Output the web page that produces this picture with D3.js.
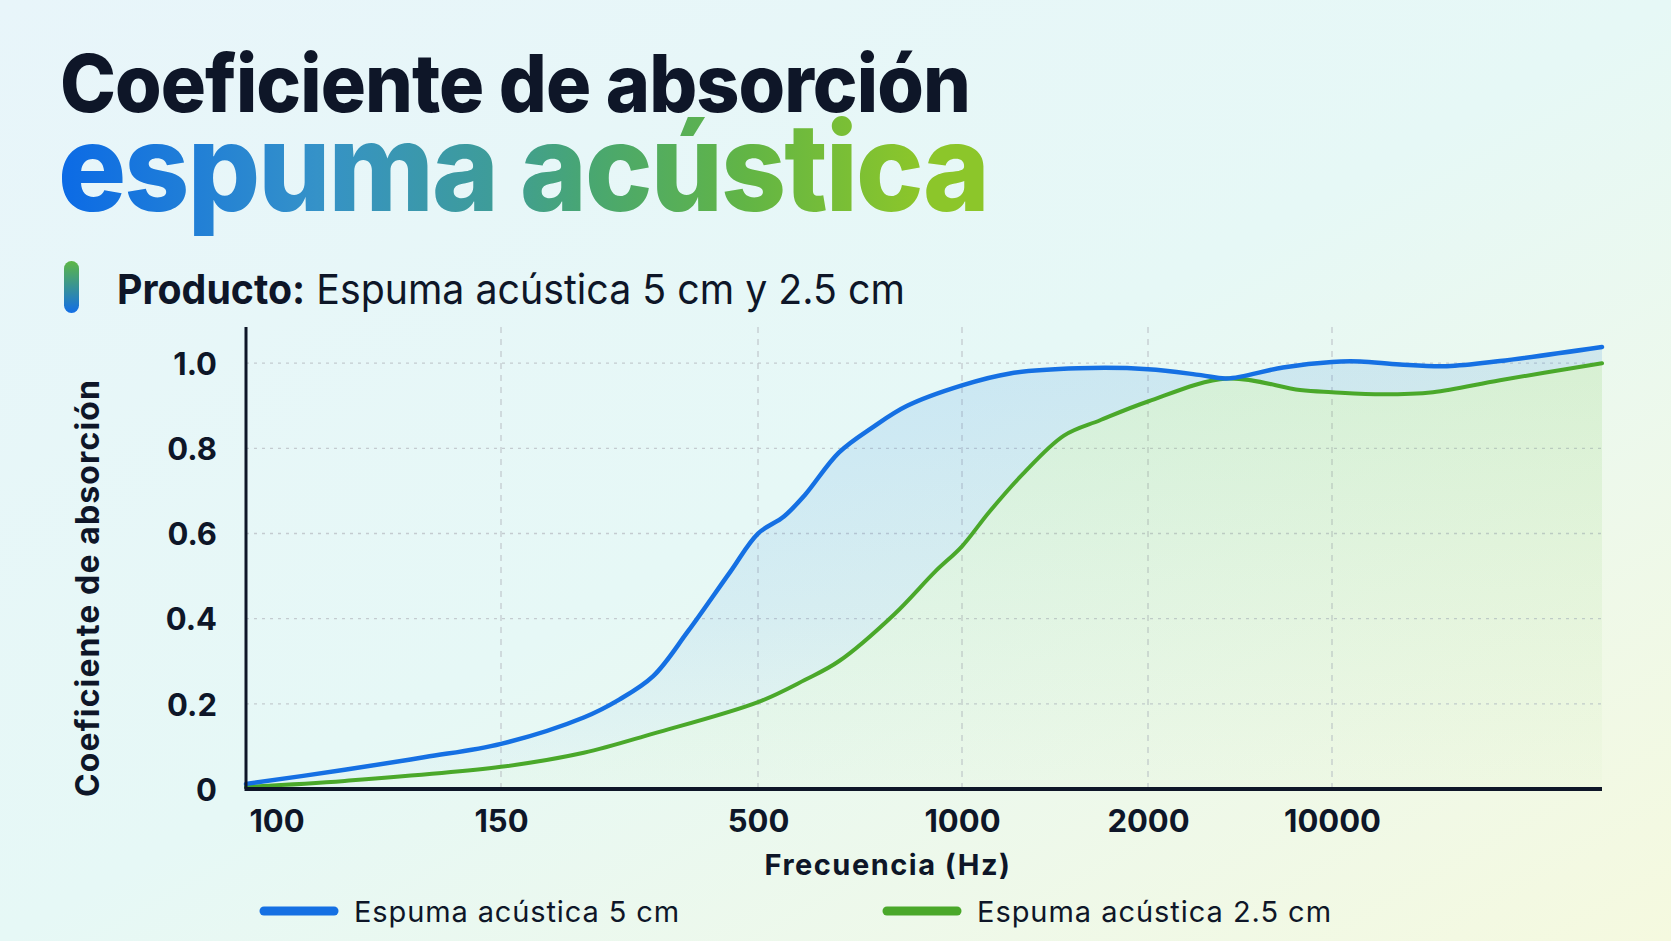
<!DOCTYPE html>
<html>
<head>
<meta charset="utf-8">
<script src="https://cdn.jsdelivr.net/npm/d3@7"></script>
<style>
  html, body { margin: 0; padding: 0; overflow: hidden; }
  svg { display: block; font-family: Inter, "Noto Sans", sans-serif; }
</style>
</head>
<body>
<svg id="chart" width="1671" height="941"></svg>
<script>
// Chart data
const freqTicks = [100, 150, 500, 1000, 2000, 10000];
const absTicks = [0, 0.2, 0.4, 0.6, 0.8, 1.0];
const seriesNames = ["Espuma acústica 5 cm", "Espuma acústica 2.5 cm"];

// 5 cm foam
const foam5Freq = [100, 117, 133, 150, 221, 261, 306, 360, 439, 500, 546, 586, 658, 739, 830, 1000, 1196, 1541, 2000, 3180, 3990, 6510, 10000, 10750, 11900, 13430, 15390, 20000];
const foam5Abs  = [0.012, 0.045, 0.075, 0.106, 0.168, 0.21, 0.265, 0.37, 0.51, 0.60, 0.64, 0.69, 0.79, 0.85, 0.90, 0.948, 0.976, 0.988, 0.986, 0.972, 0.964, 0.99, 1.003, 1.004, 0.997, 0.993, 1.005, 1.038];

// 2.5 cm foam
const foam25Freq = [100, 117, 150, 221, 306, 500, 586, 658, 794, 912, 1000, 1106, 1255, 1462, 1673, 2000, 3990, 7560, 10000, 11400, 12960, 15390, 20000];
const foam25Abs  = [0.005, 0.019, 0.052, 0.085, 0.13, 0.204, 0.256, 0.30, 0.41, 0.51, 0.57, 0.65, 0.74, 0.83, 0.866, 0.91, 0.964, 0.937, 0.932, 0.927, 0.932, 0.96, 1.0];

const W = 1671, H = 941;
const ink = "#0e1628";
const blue = "#1570e3", green = "#4aa82a";

const svg = d3.select("#chart");
const defs = svg.append("defs");

// background wash
const bg = defs.append("linearGradient").attr("id", "bg")
  .attr("x1", "0").attr("y1", "0").attr("x2", "1").attr("y2", "1");
bg.append("stop").attr("offset", "0").attr("stop-color", "#e8f5fa");
bg.append("stop").attr("offset", "0.5").attr("stop-color", "#e6f8f6");
bg.append("stop").attr("offset", "1").attr("stop-color", "#f5f9df");
svg.append("rect").attr("width", W).attr("height", H).attr("fill", "url(#bg)");

const titleGrad = defs.append("linearGradient").attr("id", "titleGrad")
  .attr("gradientUnits", "userSpaceOnUse").attr("x1", 0).attr("x2", 925).attr("y1", 0).attr("y2", 0);
[["0", "#0b6ae6"], ["0.3", "#3592c8"], ["0.5", "#3e9c9a"], ["0.62", "#49a770"], ["0.8", "#62b545"], ["1", "#8cc62a"]]
  .forEach(s => titleGrad.append("stop").attr("offset", s[0]).attr("stop-color", s[1]));

const barGrad = defs.append("linearGradient").attr("id", "barGrad")
  .attr("x1", 0).attr("x2", 0).attr("y1", 0).attr("y2", 1);
barGrad.append("stop").attr("offset", "0").attr("stop-color", "#5db745");
barGrad.append("stop").attr("offset", "1").attr("stop-color", "#136ee6");

// fit a text element to a width by nudging letter spacing
function fit(sel, w) {
  const n = sel.text().length;
  const cur = sel.node().getComputedTextLength();
  sel.style("letter-spacing", ((w - cur) / n) + "px");
  return sel;
}
// squeeze a text horizontally so its glyphs fill a width
function squeeze(sel, px, py, w) {
  const cur = sel.node().getComputedTextLength();
  sel.attr("transform", `translate(${px},${py}) scale(${w / cur},1)`);
  return sel;
}

// titles
squeeze(svg.append("text")
  .attr("font-size", 80).attr("font-weight", 800).attr("fill", ink)
  .style("letter-spacing", "-1px")
  .text("Coeficiente de absorción"), 60, 112, 910);

squeeze(svg.append("text")
  .attr("font-size", 122).attr("font-weight", 800).attr("fill", "url(#titleGrad)")
  .style("letter-spacing", "-2px")
  .text("espuma acústica"), 58, 211, 930);

svg.append("rect").attr("x", 64).attr("y", 261).attr("width", 15).attr("height", 52)
  .attr("rx", 7.5).attr("fill", "url(#barGrad)");

const sub = svg.append("text").attr("font-size", 41).attr("fill", ink);
sub.append("tspan").attr("font-weight", 700).text("Producto:");
sub.append("tspan").attr("font-weight", 400).text(" Espuma acústica 5 cm y 2.5 cm");
squeeze(sub, 117, 304, 788);

// scales
const x = d3.scaleLog()
  .domain([100, 150, 500, 1000, 2000, 10000, 20000])
  .range([246, 501, 758, 962, 1148, 1332, 1602]);
const y = d3.scaleLinear().domain([0, 1.085]).range([789, 327]);
const [x0, x1] = [x(100), x(20000)];

// grid
svg.append("g").selectAll("line").data(absTicks.filter(d => d > 0)).join("line")
  .attr("x1", x0).attr("x2", x1).attr("y1", d => y(d)).attr("y2", d => y(d))
  .attr("stroke", "#c4cbd0").attr("stroke-width", 1.3).attr("stroke-dasharray", "3,5");
svg.append("g").selectAll("line").data(freqTicks.slice(1)).join("line")
  .attr("x1", d => x(d)).attr("x2", d => x(d)).attr("y1", y(1.085)).attr("y2", y(0))
  .attr("stroke", "#c0c7cc").attr("stroke-width", 1.2).attr("stroke-dasharray", "6,6");

// areas
const pts5 = foam5Freq.map((f, i) => ({ f, v: foam5Abs[i] }));
const pts25 = foam25Freq.map((f, i) => ({ f, v: foam25Abs[i] }));
const curve = d3.curveCatmullRom.alpha(0.5);
const line = d3.line().x(d => x(d.f)).y(d => y(d.v)).curve(curve);

const blueFill = defs.append("linearGradient").attr("id", "blueFill")
  .attr("gradientUnits", "userSpaceOnUse").attr("x1", 0).attr("x2", 0).attr("y1", y(1)).attr("y2", y(0));
blueFill.append("stop").attr("offset", "0").attr("stop-color", "#3b8fe0").attr("stop-opacity", 0.16);
blueFill.append("stop").attr("offset", "0.6").attr("stop-color", "#3b8fe0").attr("stop-opacity", 0.1);
blueFill.append("stop").attr("offset", "1").attr("stop-color", "#3b8fe0").attr("stop-opacity", 0.02);

const greenFill = defs.append("linearGradient").attr("id", "greenFill")
  .attr("gradientUnits", "userSpaceOnUse").attr("x1", 0).attr("x2", 0).attr("y1", y(1)).attr("y2", y(0));
greenFill.append("stop").attr("offset", "0").attr("stop-color", "#78c850").attr("stop-opacity", 0.17);
greenFill.append("stop").attr("offset", "0.5").attr("stop-color", "#78c850").attr("stop-opacity", 0.09);
greenFill.append("stop").attr("offset", "1").attr("stop-color", "#78c850").attr("stop-opacity", 0.02);

// blue band only shows above the green curve
defs.append("clipPath").attr("id", "aboveGreen").append("path").datum(pts25)
  .attr("d", d3.area().x(d => x(d.f)).y0(0).y1(d => y(d.v)).curve(curve));

svg.append("path").datum(pts5)
  .attr("d", d3.area().x(d => x(d.f)).y0(y(0)).y1(d => y(d.v)).curve(curve))
  .attr("clip-path", "url(#aboveGreen)")
  .attr("fill", "url(#blueFill)");
svg.append("path").datum(pts25)
  .attr("d", d3.area().x(d => x(d.f)).y0(y(0)).y1(d => y(d.v)).curve(curve))
  .attr("fill", "url(#greenFill)");

svg.append("path").datum(pts25).attr("d", line)
  .attr("fill", "none").attr("stroke", green).attr("stroke-width", 4).attr("stroke-linecap", "round");
svg.append("path").datum(pts5).attr("d", line)
  .attr("fill", "none").attr("stroke", blue).attr("stroke-width", 4.5).attr("stroke-linecap", "round");

// axes
const yAxis = svg.append("g").attr("transform", "translate(217,0)")
  .call(d3.axisLeft(y).tickValues(absTicks).tickSize(0).tickPadding(0)
    .tickFormat(d => d === 0 ? "0" : d3.format(".1f")(d)));
yAxis.select(".domain").remove();
yAxis.selectAll("text").attr("font-family", "Inter, sans-serif").attr("font-size", 31)
  .attr("font-weight", 700).attr("fill", ink).attr("dy", "0.36em");

const xAxis = svg.append("g").attr("transform", `translate(0,${y(0)})`)
  .call(d3.axisBottom(x).tickValues(freqTicks).tickSize(0).tickPadding(0)
    .tickFormat(d3.format("d")));
xAxis.select(".domain").remove();
xAxis.selectAll("text").attr("font-family", "Inter, sans-serif").attr("font-size", 31)
  .attr("font-weight", 700).attr("fill", ink).attr("dy", null).attr("y", 43);
xAxis.selectAll(".tick").filter(d => d === 100).select("text")
  .attr("text-anchor", "start").attr("x", 3);

svg.append("line").attr("x1", x0).attr("x2", x0).attr("y1", y(1.085)).attr("y2", y(0))
  .attr("stroke", ink).attr("stroke-width", 3);
svg.append("line").attr("x1", x0 - 1.5).attr("x2", x1).attr("y1", y(0)).attr("y2", y(0))
  .attr("stroke", ink).attr("stroke-width", 4);

// axis titles
fit(svg.append("text").attr("x", 888).attr("y", 875).attr("text-anchor", "middle")
  .attr("font-size", 29).attr("font-weight", 700).attr("fill", ink)
  .text("Frecuencia (Hz)"), 247);

fit(svg.append("text").attr("transform", "translate(99,588) rotate(-90)").attr("text-anchor", "middle")
  .attr("font-size", 32).attr("font-weight", 700).attr("fill", ink)
  .text("Coeficiente de absorción"), 418);

// legend
const legend = svg.append("g").selectAll("g").data(seriesNames).join("g")
  .attr("transform", (d, i) => `translate(${[264, 887][i]},911)`);
legend.append("line").attr("x1", 0).attr("x2", 70).attr("y1", 0).attr("y2", 0)
  .attr("stroke", (d, i) => [blue, green][i]).attr("stroke-width", 9).attr("stroke-linecap", "round");
legend.append("text").attr("x", 90).attr("y", 11).attr("font-size", 29).attr("fill", ink)
  .text(d => d)
  .each(function (d, i) { fit(d3.select(this), [326, 355][i]); });
</script>
</body>
</html>
